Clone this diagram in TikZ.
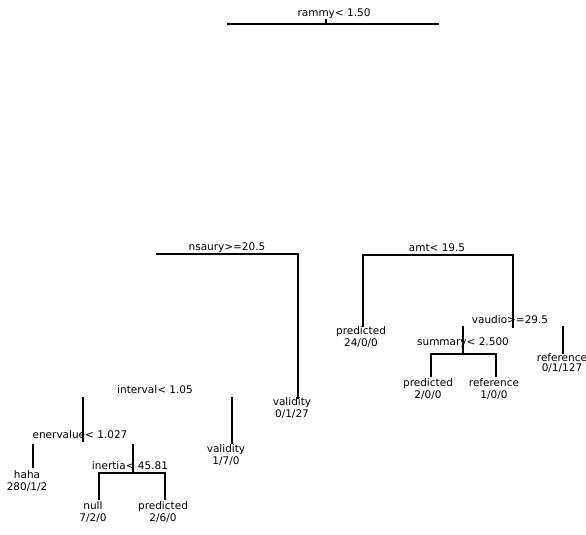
\documentclass[tikz,border=0pt]{standalone}
\usepackage{fontspec}
\setmainfont{DejaVu Sans}
\begin{document}
\begin{tikzpicture}[x=1pt,y=-1pt,
  edge/.style={line width=1.8pt, line cap=rect},
  lab/.style={font=\fontsize{10.5}{11.5}\selectfont, inner sep=0pt, align=center},
  leaf/.style={font=\fontsize{10.5}{11.5}\selectfont, inner sep=0pt, align=center}]
\useasboundingbox (0,0) rectangle (586,535);
% root
\node[lab] (root) at (334,14) {rammy< 1.50};
\coordinate (rL) at (228,24);
\coordinate (rR) at (438,24);
\coordinate (rT) at (326,24);
\coordinate (rTt) at (326,20);
\draw[edge] (rL) -- (rR);
\draw[edge] (rTt) -- (rT);
% left split
\node[lab] (L) at (227,248) {nsaury>=20.5};
\coordinate (LL) at (157,254);
\coordinate (LR) at (298,254);
\node[leaf] (vA) at (292,408) {validity\\0/1/27};
\coordinate (LRe) at (298,398);
\draw[edge] (LL) -- (LR) -- (LRe);
% right split
\node[lab] (R) at (437,248) {amt< 19.5};
\coordinate (RL) at (363,255);
\coordinate (RR) at (513,255);
\coordinate (RLe) at (363,326);
\coordinate (RRe) at (513,327);
\draw[edge] (RLe) -- (RL) -- (RR) -- (RRe);
\node[leaf] (p1) at (361,337) {predicted\\24/0/0};
\node[lab] (V) at (510,320) {vaudio>=29.5};
% summary node
\node[lab] (S) at (463,343) {summary< 2.500};
\coordinate (St) at (463,327);
\coordinate (Sb) at (463,354);
\coordinate (SL) at (431,354);
\coordinate (SR) at (496,354);
\coordinate (SLe) at (431,376);
\coordinate (SRe) at (496,376);
\draw[edge] (St) -- (Sb);
\draw[edge] (SLe) -- (SL) -- (SR) -- (SRe);
\node[leaf] (p2) at (428,389) {predicted\\2/0/0};
\node[leaf] (r1) at (494,389) {reference\\1/0/0};
% right leaf
\coordinate (Qt) at (563,327);
\coordinate (Qb) at (563,353);
\draw[edge] (Qt) -- (Qb);
\node[leaf, font=\fontsize{10.5}{10}\selectfont] (r2) at (562,363) {reference\\0/1/127};
% interval node
\node[lab] (I) at (155,390) {interval< 1.05};
\coordinate (It1) at (83,398);
\coordinate (Ib1) at (83,441);
\coordinate (It2) at (232,398);
\coordinate (Ib2) at (232,443);
\draw[edge] (It1) -- (Ib1);
\draw[edge] (It2) -- (Ib2);
\node[leaf] (vB) at (226,455) {validity\\1/7/0};
% enervalue node
\node[lab] (E) at (80,435) {enervalue< 1.027};
\coordinate (Et1) at (33,445);
\coordinate (Eb1) at (33,467);
\coordinate (Et2) at (133,445);
\coordinate (Eb2) at (133,473);
\draw[edge] (Et1) -- (Eb1);
\draw[edge] (Et2) -- (Eb2);
\node[leaf] (h) at (27,481) {haha\\280/1/2};
% inertia node
\node[lab] (N) at (130,466) {inertia< 45.81};
\coordinate (NL) at (99,473);
\coordinate (NR) at (165,473);
\coordinate (NLe) at (99,499);
\coordinate (NRe) at (165,499);
\draw[edge] (NLe) -- (NL) -- (NR) -- (NRe);
\node[leaf] (nu) at (93,512) {null\\7/2/0};
\node[leaf] (p3) at (163,512) {predicted\\2/6/0};
\end{tikzpicture}
\end{document}
